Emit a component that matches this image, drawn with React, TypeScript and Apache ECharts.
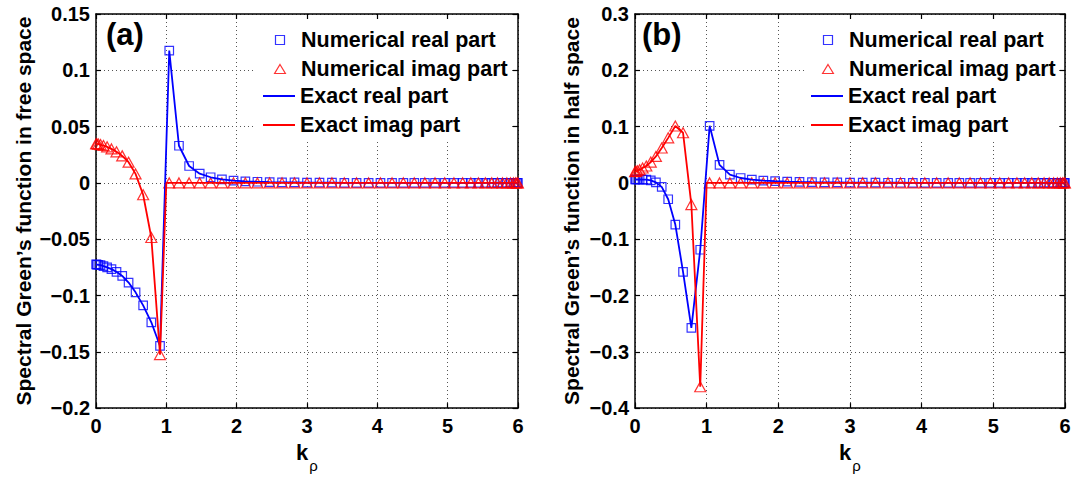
import React, { useEffect, useRef } from 'react';
import * as echarts from 'echarts';

// Sample positions k_rho (same for both panels)
const kNodes = [0.0013, 0.0119, 0.0329, 0.0643, 0.1061, 0.1580, 0.2199, 0.2916, 0.3728, 0.4632,
  0.5625, 0.6704, 0.7865, 0.9103, 1.0415, 1.1796, 1.3241, 1.4744, 1.6301, 1.7906,
  1.9554, 2.1238, 2.2953, 2.4693, 2.6452, 2.8223, 3.0000,
  3.1777, 3.3548, 3.5307, 3.7047, 3.8762, 4.0446, 4.2094, 4.3699, 4.5256, 4.6759,
  4.8204, 4.9585, 5.0897, 5.2135, 5.3296, 5.4375, 5.5368, 5.6272, 5.7084, 5.7801,
  5.8420, 5.8939, 5.9357, 5.9671, 5.9881, 5.9987];

// (a) free space
const realA = [-0.0724, -0.0725, -0.0727, -0.0731, -0.0739, -0.0750, -0.0766, -0.0790, -0.0826, -0.0885,
  -0.0972, -0.1088, -0.1238, -0.1448, 0.1175, 0.0330, 0.0150, 0.0082, 0.0050, 0.0032,
  0.0021, 0.0014, 0.0010, 0.0007, 0.0005, 0.0004, 0.0003,
  0.0002, 0.0002, 0.0001, 0.0001, 0.0001, 0.0001, 0.0001, 0, 0, 0,
  0, 0, 0, 0, 0, 0, 0, 0, 0, 0,
  0, 0, 0, 0, 0, 0];
const imagA = [0.0348, 0.0347, 0.0345, 0.0340, 0.0332, 0.0320, 0.0302, 0.0276, 0.0240, 0.0184,
  0.0080, -0.0105, -0.0485, -0.1525, 0, 0, 0, 0, 0, 0,
  0, 0, 0, 0, 0, 0, 0,
  0, 0, 0, 0, 0, 0, 0, 0, 0, 0,
  0, 0, 0, 0, 0, 0, 0, 0, 0, 0,
  0, 0, 0, 0, 0, 0];

// (b) half space
const realB = [0.0060, 0.0060, 0.0060, 0.0060, 0.0059, 0.0057, 0.0045, 0.0010, -0.0070, -0.0290,
  -0.0740, -0.1580, -0.2576, -0.1187, 0.1014, 0.0320, 0.0146, 0.0087, 0.0059, 0.0042,
  0.0030, 0.0022, 0.0017, 0.0013, 0.0010, 0.0008, 0.0006,
  0.0005, 0.0004, 0.0003, 0.0003, 0.0002, 0.0002, 0.0002, 0.0001, 0.0001, 0.0001,
  0.0001, 0.0001, 0, 0, 0, 0, 0, 0, 0, 0,
  0, 0, 0, 0, 0, 0];
const imagB = [0.0200, 0.0205, 0.0215, 0.0235, 0.0265, 0.0300, 0.0370, 0.0470, 0.0620, 0.0800,
  0.1010, 0.0890, -0.0385, -0.3620, 0, 0, 0, 0, 0, 0,
  0, 0, 0, 0, 0, 0, 0,
  0, 0, 0, 0, 0, 0, 0, 0, 0, 0,
  0, 0, 0, 0, 0, 0, 0, 0, 0, 0,
  0, 0, 0, 0, 0, 0];

// exact imaginary part reaches zero at the cut-off k_rho = 1
const kCutoff = 1.0;
const cutoffValue = 0;

const xTicks = { min: 0, max: 6, interval: 1 };
const yRangeA = { min: -0.2, max: 0.15, interval: 0.05 };
const yRangeB = { min: -0.4, max: 0.3, interval: 0.1 };

const legendNum = ['Numerical real part', 'Numerical imag part'];
const legendExact = ['Exact real part', 'Exact imag part'];
const yTitleA = 'Spectral Green\u2019s function in free space';
const yTitleB = 'Spectral Green\u2019s function in half space';

const FONT = '"Liberation Sans", Arial, Helvetica, sans-serif';
const BLUE = '#0000ff';
const RED = '#ff0000';
const SQUARE_ICON = 'path://M0,0L10,0L10,10L0,10Z';
const TRIANGLE_ICON = 'path://M6,0L12,10L0,10Z';

const pairs = (ks: number[], vs: number[]) => ks.map((k, i) => [k, vs[i]]);
const withCutoff = (ks: number[], vs: number[]) => {
  const out: number[][] = [];
  ks.forEach((k, i) => {
    if (i > 0 && ks[i - 1] < kCutoff && k > kCutoff) out.push([kCutoff, cutoffValue]);
    out.push([k, vs[i]]);
  });
  return out;
};

const fmtY = (v: number) => {
  const r = Math.round(v * 100) / 100;
  if (Math.abs(r) < 1e-9) return '0';
  return (r < 0 ? '\u2212' : '') + String(Math.abs(r));
};

function buildPanel(gi: number, yr: { min: number; max: number; interval: number }, yTitle: string, nameGapY: number, real: number[], imag: number[]) {
  const axisLine = { show: true, onZero: false, lineStyle: { color: '#000', width: 1.5 } };
  const tick = { show: true, inside: true, length: 5, lineStyle: { color: '#000', width: 1.2 } };
  const split = { show: true, lineStyle: { color: '#555', width: 1, type: [1, 3] } };
  const labelStyle = { fontSize: 20, fontWeight: 'bold', color: '#000', fontFamily: FONT };
  const xAxes = [
    {
      type: 'value', gridIndex: gi, position: 'bottom', ...xTicks,
      axisLine, axisTick: tick, splitLine: split,
      axisLabel: { ...labelStyle, margin: 8 },
      name: '{k|k}{s|\u03c1}', nameLocation: 'middle', nameGap: 27,
      nameTextStyle: {
        rich: {
          k: { fontSize: 22, fontWeight: 'bold', color: '#000', fontFamily: FONT, lineHeight: 22, verticalAlign: 'top' },
          s: { fontSize: 15, color: '#000', fontFamily: FONT, lineHeight: 15, padding: [17, 0, 0, 1], verticalAlign: 'top' },
        },
      },
    },
    {
      type: 'value', gridIndex: gi, position: 'top', ...xTicks,
      axisLine, axisTick: tick, splitLine: { show: false }, axisLabel: { show: false },
    },
  ];
  const yAxes = [
    {
      type: 'value', gridIndex: gi, position: 'left', ...yr,
      axisLine, axisTick: tick, splitLine: split,
      axisLabel: { ...labelStyle, margin: 6, formatter: fmtY },
      name: yTitle, nameLocation: 'middle', nameGap: nameGapY,
      nameTextStyle: { fontSize: 21, fontWeight: 'bold', color: '#000', fontFamily: FONT },
    },
    {
      type: 'value', gridIndex: gi, position: 'right', ...yr,
      axisLine, axisTick: tick, splitLine: { show: false }, axisLabel: { show: false },
    },
  ];
  const xi = gi * 2;
  const yi = gi * 2;
  const series = [
    {
      name: legendNum[0], type: 'scatter', xAxisIndex: xi, yAxisIndex: yi, clip: false,
      symbol: 'rect', symbolSize: 8.5, z: 2,
      itemStyle: { color: 'rgba(0,0,0,0)', borderColor: BLUE, borderWidth: 1.2 },
      data: pairs(kNodes, real),
    },
    {
      name: legendNum[1], type: 'scatter', xAxisIndex: xi, yAxisIndex: yi, clip: false,
      symbol: 'triangle', symbolSize: [11, 10], z: 2,
      itemStyle: { color: 'rgba(0,0,0,0)', borderColor: RED, borderWidth: 1.2 },
      data: pairs(kNodes, imag),
    },
    {
      name: legendExact[0], type: 'line', xAxisIndex: xi, yAxisIndex: yi,
      symbol: 'none', z: 3, color: BLUE,
      lineStyle: { color: BLUE, width: 1.8 },
      data: pairs(kNodes, real),
    },
    {
      name: legendExact[1], type: 'line', xAxisIndex: xi, yAxisIndex: yi,
      symbol: 'none', z: 3, color: RED,
      lineStyle: { color: RED, width: 1.8 },
      data: withCutoff(kNodes, imag),
    },
  ];
  return { xAxes, yAxes, series };
}

function buildLegends(left: number) {
  const textStyle = { fontSize: 21.5, fontWeight: 'bold', color: '#000', fontFamily: FONT, lineHeight: 21 };
  return [
    {
      orient: 'vertical', left: left + 11, top: 29, itemGap: 7, itemWidth: 32, itemHeight: 9,
      padding: 0, selectedMode: false, symbolKeepAspect: true, textStyle,
      data: [
        { name: legendNum[0], icon: SQUARE_ICON, itemStyle: { color: 'rgba(0,0,0,0)', borderColor: BLUE, borderWidth: 1.2 } },
        { name: legendNum[1], icon: TRIANGLE_ICON, itemStyle: { color: 'rgba(0,0,0,0)', borderColor: RED, borderWidth: 1.2 } },
      ],
    },
    {
      orient: 'vertical', left, top: 85, itemGap: 7, itemWidth: 32, itemHeight: 2,
      padding: 0, selectedMode: false, symbolKeepAspect: false, textStyle,
      data: [
        { name: legendExact[0], icon: 'rect', itemStyle: { color: BLUE, borderWidth: 0 } },
        { name: legendExact[1], icon: 'rect', itemStyle: { color: RED, borderWidth: 0 } },
      ],
    },
  ];
}

export default function App() {
  const ref = useRef<HTMLDivElement>(null);
  useEffect(() => {
    if (!ref.current) return;
    const chart = echarts.init(ref.current, null, { renderer: 'svg' });
    const a = buildPanel(0, yRangeA, yTitleA, 62, realA, imagA);
    const b = buildPanel(1, yRangeB, yTitleB, 53, realB, imagB);
    chart.setOption({
      animation: false,
      backgroundColor: '#fff',
      textStyle: { fontFamily: FONT },
      title: [
        { text: '(a)', left: 106, top: 19, padding: 0, textStyle: { fontSize: 31, fontWeight: 'bold', color: '#000', fontFamily: FONT } },
        { text: '(b)', left: 642, top: 19, padding: 0, textStyle: { fontSize: 31, fontWeight: 'bold', color: '#000', fontFamily: FONT } },
      ],
      grid: [
        { left: 96, top: 14, width: 422, height: 403 },
        { left: 635, top: 14, width: 430, height: 403 },
      ],
      graphic: [
        { type: 'rect', z: 1, shape: { x: 255, y: 20, width: 256, height: 120 }, style: { fill: '#fff' } },
        { type: 'rect', z: 1, shape: { x: 805, y: 20, width: 254, height: 120 }, style: { fill: '#fff' } },
      ],
      legend: [...buildLegends(263), ...buildLegends(811)],
      xAxis: [...a.xAxes, ...b.xAxes],
      yAxis: [...a.yAxes, ...b.yAxes],
      series: [...a.series, ...b.series],
    });
    return () => chart.dispose();
  }, []);
  return <div ref={ref} style={{ position: 'fixed', left: 0, top: 0, width: 1074, height: 478 }} />;
}
